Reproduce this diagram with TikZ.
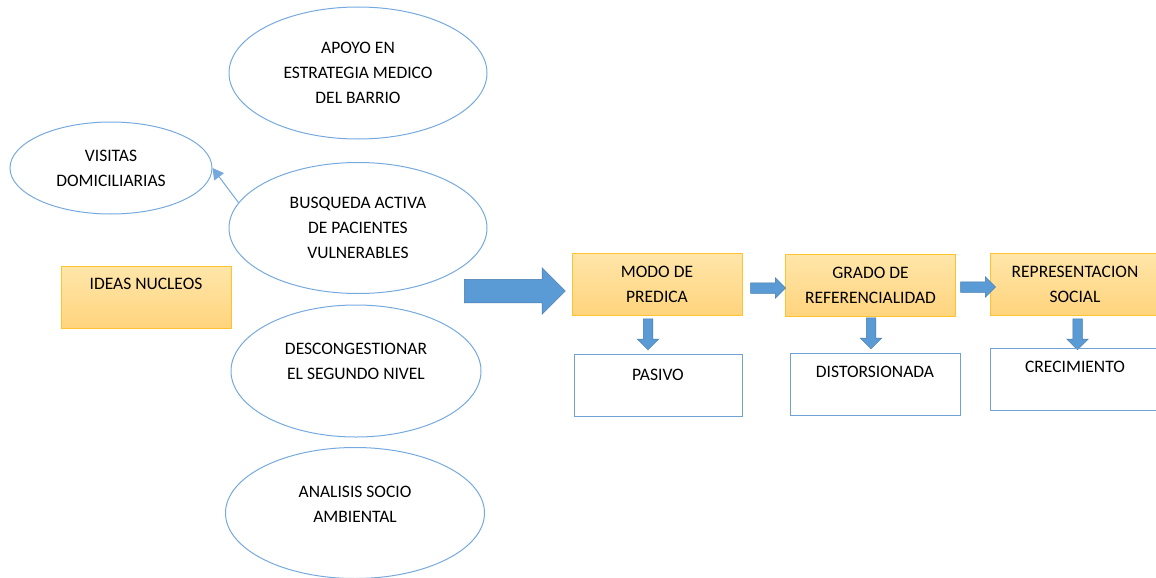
\documentclass[tikz,border=0pt]{standalone}
\usepackage{fontspec}
\setmainfont{Carlito}
\usetikzlibrary{shapes.geometric,shapes.arrows,arrows.meta}

\definecolor{elipseazul}{RGB}{118,170,222}
\definecolor{cajaazul}{RGB}{112,162,214}
\definecolor{flechaazul}{RGB}{91,155,213}
\definecolor{flechaborde}{RGB}{70,120,170}
\definecolor{naranjaclaro}{RGB}{255,230,170}
\definecolor{naranjaoscuro}{RGB}{255,212,125}
\definecolor{naranjaborde}{RGB}{255,196,45}

\tikzset{
	idea/.style={ellipse, draw=elipseazul, line width=1pt, inner sep=0pt},
	nucleo/.style={draw=naranjaborde, line width=0.8pt, top color=naranjaclaro, bottom color=naranjaoscuro, align=center, minimum width=170pt, minimum height=62pt, inner sep=0pt},
	resultado/.style={draw=cajaazul, line width=0.9pt, minimum width=168pt, minimum height=62pt, inner sep=0pt},
	bloque/.style={single arrow, fill=flechaazul, draw=flechaborde, line width=0.5pt, inner sep=0pt, single arrow head indent=0pt},
}

\begin{document}
\begin{tikzpicture}[x=1pt, y=-1pt, font=\fontsize{17.5}{25}\selectfont]
	\useasboundingbox (0,0) rectangle (1156,578); % rand wie im original
	
	% ideas (ellipsen)
	\node[idea, minimum width=258pt, minimum height=132pt, align=center] (apoyo) at (358,73) {APOYO EN\\ESTRATEGIA MEDICO\\DEL BARRIO};
	\node[idea, minimum width=202pt, minimum height=92pt, align=center] (visitas) at (111,168) {VISITAS\\DOMICILIARIAS};
	\node[idea, minimum width=258pt, minimum height=131pt, align=center] (busqueda) at (358,228) {BUSQUEDA ACTIVA\\DE PACIENTES\\VULNERABLES};
	\node[idea, minimum width=250pt, minimum height=132pt] (descong) at (356,371) {};
	\node[align=center] at ([yshift=10pt]descong.center) {DESCONGESTIONAR\\EL SEGUNDO NIVEL};
	\node[idea, minimum width=259pt, minimum height=131pt] (analisis) at (355,513) {};
	\node[align=center] at ([yshift=9pt]analisis.center) {ANALISIS SOCIO\\AMBIENTAL};
	
	\draw[elipseazul, line width=1pt, -{Triangle[width=12pt,length=11pt]}] (busqueda.168) -- (visitas.east);
	
	% ideas nucleos
	\node[nucleo] (ideas) at (146,297) {};
	\node at ([yshift=13pt]ideas.center) {IDEAS NUCLEOS};
	
	\node[bloque, minimum height=101pt, inner ysep=11.5pt, single arrow head extend=11.5pt] (pfeil) at (509,291) {};
	
	% kette rechts
	\node[nucleo] (modo) at (657,284) {MODO DE\\PREDICA};
	\node[nucleo] (grado) at (870.5,285) {GRADO DE\\REFERENCIALIDAD};
	\node[nucleo] (repr) at (1075,284) {REPRESENTACION\\SOCIAL};
	
	\node[bloque, minimum height=35pt, inner ysep=5pt, single arrow head extend=5pt] (p1) at (765.5,288) {};
	\node[bloque, minimum height=35pt, inner ysep=5pt, single arrow head extend=5pt] (p2) at (975.5,287) {};
	
	\node[bloque, shape border rotate=270, minimum height=31pt, inner xsep=4.5pt, single arrow head extend=6pt] (d1) at (648,332) {};
	\node[bloque, shape border rotate=270, minimum height=31pt, inner xsep=4.5pt, single arrow head extend=6pt] (d2) at (871,331) {};
	\node[bloque, shape border rotate=270, minimum height=31pt, inner xsep=4.5pt, single arrow head extend=6pt] (d3) at (1077.5,332) {};
	
	\node[resultado] (pasivo) at (658,385.5) {};
	\node at ([yshift=11pt]pasivo.center) {PASIVO};
	\node[resultado, minimum width=170pt] (distor) at (875,384) {};
	\node at ([yshift=12pt]distor.center) {DISTORSIONADA};
	\node[resultado, minimum width=170pt] (crec) at (1075,379) {};
	\node at ([yshift=12pt]crec.center) {CRECIMIENTO};
\end{tikzpicture}
\end{document}
